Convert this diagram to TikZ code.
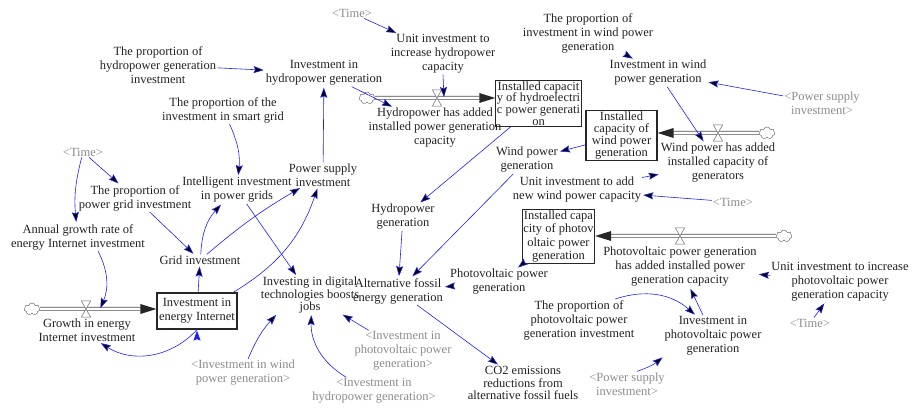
\documentclass[tikz,border=0pt]{standalone}
\usepackage{fontspec}
\setmainfont{Liberation Serif}
\usetikzlibrary{arrows.meta,shapes.symbols}
\definecolor{linkblue}{RGB}{30,30,250}
\definecolor{shadowgray}{RGB}{140,140,140}
\definecolor{textgray}{RGB}{35,35,35}

\begin{document}
\begin{tikzpicture}[x=1pt,y=1pt,>={Stealth[length=10pt,width=7pt,inset=1.5pt]},
    var/.style={align=center,text=textgray,inner sep=1pt,font=\fontsize{12.5}{14}\selectfont},
    ghost/.style={var,text=shadowgray},
    stock/.style={draw=black!85,line width=1.2pt,align=center,inner sep=1pt,text=textgray,font=\fontsize{12.5}{12}\selectfont},
    valve/.style={minimum width=9pt,minimum height=16pt,inner sep=0pt},
    cloudy/.style={cloud,cloud puffs=7,aspect=1.4,draw=black!65,minimum width=16pt,minimum height=12pt,inner sep=0pt},
    pipe/.style={draw=black!70,line width=0.7pt,double=white,double distance=2.6pt},
    link/.style={->,draw=linkblue,line width=0.6pt,shorten >=1pt}]
    \useasboundingbox (0,0) rectangle (913,407);

    % hydropower
    \node[ghost] (timeA) at (352,394) {<Time>};
    \node[var] (unitHy) at (443,353) {Unit investment to\\increase hydropower\\capacity};
    \node[var] (propHy) at (158,342) {The proportion of\\hydropower generation\\investment};
    \node[var] (invHy) at (324,334) {Investment in\\hydropower generation};
    \node[var] (rateHy) at (435,279) {Hydropower has added\\installed power generation\\capacity};
    \node[stock,minimum width=83pt,minimum height=45pt,font=\fontsize{12.5}{11.6}\selectfont] (capHy) at (538.5,303.5) {Installed capacit\\y of hydroelectri\\c power generati\\on};
    \node[var] (genHy) at (403,190) {Hydropower\\generation};

    % wind power
    \node[var] (propWind) at (588,374) {The proportion of\\investment in wind power\\generation};
    \node[var] (invWind) at (658,334) {Investment in wind\\power generation};
    \node[ghost] (psiA) at (822,304) {<Power supply\\investment>};
    \node[stock,minimum width=71pt,minimum height=47pt] (capWind) at (621.5,271.5) {Installed\\capacity of\\wind power\\generation};
    \node[var] (rateWind) at (718,244) {Wind power has added\\installed capacity of\\generators};
    \node[var] (genWind) at (527,247) {Wind power\\generation};
    \node[var] (unitWind) at (577,217) {Unit investment to add\\new wind power capacity};
    \node[ghost] (timeB) at (733,205) {<Time>};

    % photovoltaic
    \node[stock,minimum width=69pt,minimum height=53pt,font=\fontsize{12.5}{13.3}\selectfont] (capPV) at (558.5,170.5) {Installed capa\\city of photov\\oltaic power\\generation};
    \node[var] (ratePV) at (680,140) {Photovoltaic power generation\\has added installed power\\generation capacity};
    \node[var] (unitPV) at (840,125) {Unit investment to increase\\photovoltaic power\\generation capacity};
    \node[ghost] (timeC) at (810,84) {<Time>};
    \node[var] (invPV) at (713,71) {Investment in\\photovoltaic power\\generation};
    \node[var] (propPV) at (579,87) {The proportion of\\photovoltaic power\\generation investment};
    \node[ghost] (psiB) at (627,23) {<Power supply\\investment>};
    \node[var] (genPV) at (499,125) {Photovoltaic power\\generation};

    % outputs
    \node[var] (altFossil) at (398,116) {Alternative fossil\\energy generation};
    \node[var,font=\fontsize{12.5}{12.5}\selectfont] (co2) at (523,24) {CO2 emissions\\reductions from\\alternative fossil fuels};
    \node[var,font=\fontsize{12.5}{12.3}\selectfont] (digital) at (310,112) {Investing in digital\\technologies boosts\\jobs};
    \node[ghost] (shPV) at (403,56) {<Investment in\\photovoltaic power\\generation>};
    \node[ghost] (shHy) at (374,16) {<Investment in\\hydropower generation>};
    \node[ghost] (shWind) at (243,34) {<Investment in wind\\power generation>};

    % energy internet
    \node[stock,minimum width=80pt,minimum height=36pt,font=\fontsize{12.5}{14}\selectfont] (invEI) at (197,96) {Investment in\\energy Internet};
    \node[var] (rateEI) at (87,77) {Growth in energy\\Internet investment};
    \node[var] (gridInv) at (200,147) {Grid investment};
    \node[var] (growthRate) at (78,170) {Annual growth rate of\\energy Internet investment};
    \node[ghost] (timeD) at (83,255) {<Time>};
    \node[var] (propGrid) at (135,209) {The proportion of\\power grid investment};
    \node[var] (smartInv) at (237,217) {Intelligent investment\\in power grids};
    \node[var] (psInv) at (323,232) {Power supply\\investment};
    \node[var] (propSmart) at (223,297) {The proportion of the\\investment in smart grid};

    % flows
    \node[cloudy] (cloudHy) at (367,309) {};
    \node[valve] (valveHy) at (437,309) {};
    \node[cloudy] (cloudWind) at (767,274) {};
    \node[valve] (valveWind) at (718,274) {};
    \node[cloudy] (cloudPV) at (784,171) {};
    \node[valve] (valvePV) at (680,171) {};
    \node[cloudy] (cloudEI) at (32,98) {};
    \node[valve] (valveEI) at (86,98) {};

    \coordinate (tipHy) at (capHy.west |- valveHy);
    \coordinate (baseHy) at ([xshift=-16pt]tipHy);
    \coordinate (tipWind) at (capWind.east |- valveWind);
    \coordinate (baseWind) at ([xshift=16pt]tipWind);
    \coordinate (tipPV) at (capPV.east |- valvePV);
    \coordinate (basePV) at ([xshift=16pt]tipPV);
    \coordinate (tipEI) at (invEI.west |- valveEI);
    \coordinate (baseEI) at ([xshift=-16pt]tipEI);

    \draw[pipe] (cloudHy) -- (baseHy);
    \draw[pipe] (cloudWind) -- (baseWind);
    \draw[pipe] (cloudPV) -- (basePV);
    \draw[pipe] (cloudEI) -- (baseEI);
    \foreach \f in {Hy,Wind,PV,EI}
        \fill[black!85] (tip\f) -- ([yshift=5pt]base\f) -- ([yshift=-5pt]base\f) -- cycle;
    \foreach \v in {valveHy,valveWind,valvePV,valveEI}
        \draw[black!60,fill=white,line width=0.5pt] (\v.north west) -- (\v.north east) -- (\v.south west) -- (\v.south east) -- cycle;

    % causal links
    \path[link] (timeA) edge (unitHy)
        (unitHy.south) edge ([xshift=7pt]valveHy.center)
        (invHy) edge (rateHy)
        (propHy) edge (invHy)
        (propSmart) edge[bend left=15] (smartInv)
        (psInv) edge (invHy)
        (capHy) edge (genHy)
        (capWind) edge (genWind)
        (invWind) edge (rateWind)
        (propWind) edge (invWind)
        (psiA) edge (invWind)
        (unitWind) edge (rateWind)
        (timeB) edge (unitWind)
        (genWind) edge (altFossil)
        (genHy) edge (altFossil)
        (genPV) edge (altFossil)
        (capPV) edge (genPV)
        (unitPV) edge (ratePV)
        (timeC) edge (unitPV)
        (invPV) edge (ratePV)
        (propPV.30) edge[bend left=30] (invPV.130)
        ([xshift=10pt]psiB.north) edge[bend right=10] (invPV.south west)
        (altFossil) edge (co2)
        (shPV) edge (digital)
        (shHy) edge[bend left=30] (digital)
        (shWind) edge[bend left=10] (digital.210)
        (smartInv) edge (digital)
        (gridInv) edge[bend left=20] (smartInv)
        (gridInv) edge[bend left=5] (psInv)
        (invEI) edge[bend right=20] (psInv)
        (invEI) edge (gridInv)
        (propGrid) edge (gridInv)
        (timeD) edge (propGrid)
        (timeD) edge[bend right=10] (growthRate)
        ([xshift=20pt]growthRate.south) edge[bend left=25] ([xshift=14pt]valveEI.center)
        (invEI.south) edge[bend left=40] ([xshift=13pt]rateEI.south);
\end{tikzpicture}
\end{document}
